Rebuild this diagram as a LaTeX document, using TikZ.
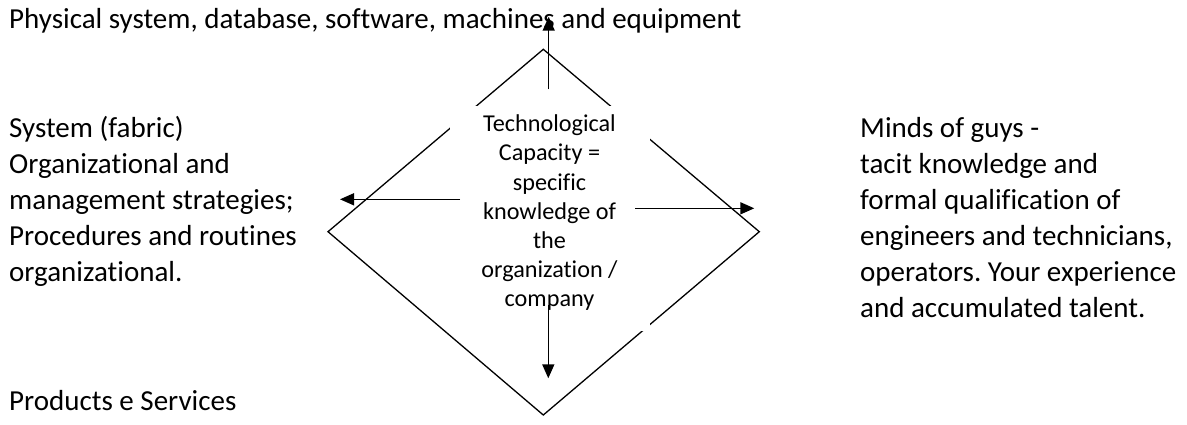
\documentclass[tikz,border=0pt]{standalone}
\usepackage{fontspec}
\setmainfont{Carlito}[Ligatures={NoCommon}]
\usetikzlibrary{arrows.meta}
\frenchspacing
\begin{document}
\begin{tikzpicture}[x=1pt,y=-1pt,
  txt/.style={inner sep=0pt, anchor=base west, font=\fontsize{29}{36}\selectfont},
  edge/.style={line width=1.3pt, line join=miter},
  arr/.style={line width=1.5pt, -{Triangle[length=14pt,width=12pt]}},
  capbox/.style={fill=white, inner sep=0pt, minimum width=200pt, minimum height=225pt},
  captxt/.style={inner sep=0pt, anchor=base, font=\fontsize{24.2}{29.2}\selectfont}
]
\fill[white] (0,0) rectangle (1187,424);
\useasboundingbox (0,0) rectangle (1187,424);
\node[txt] (phys) at (9,28.3) {Physical system, database, software, machines and equipment};
\node[txt] (sys) at (9,137) {\parbox[t]{330pt}{\raggedright System (fabric)\\Organizational and\\management strategies;\\Procedures and routines\\organizational.}};
\node[txt] (prod) at (9,410) {Products e Services};
\node[txt] (minds) at (860,137) {\parbox[t]{340pt}{\raggedright Minds of guys -\\tacit knowledge and\\formal qualification of\\engineers and technicians,\\operators. Your experience\\and accumulated talent.}};
\coordinate (T) at (543.3,49.3);
\coordinate (R) at (759.3,231.7);
\coordinate (B) at (543.3,415);
\coordinate (L) at (328,231.7);
\draw[edge] (T) -- (R) -- (B) -- (L) -- cycle;
\node[capbox] (box) at (550,218.5) {};
\node[captxt] (cap) at (549.5,131.7) {\parbox[t]{200pt}{\centering Technological\\Capacity =\\specific\\knowledge of\\the\\organization /\\company}};
\coordinate (upS) at (548.7,89.3);
\coordinate (upE) at (548.7,16.7);
\coordinate (lfS) at (460,199.3);
\coordinate (lfE) at (340,199.3);
\coordinate (rtS) at (635,208.3);
\coordinate (rtE) at (754.3,208.3);
\coordinate (dnS) at (548.3,305);
\coordinate (dnE) at (548.3,378.3);
\draw[arr] (upS) -- (upE);
\draw[arr] (lfS) -- (lfE);
\draw[arr] (rtS) -- (rtE);
\draw[arr] (dnS) -- (dnE);
\end{tikzpicture}
\end{document}
